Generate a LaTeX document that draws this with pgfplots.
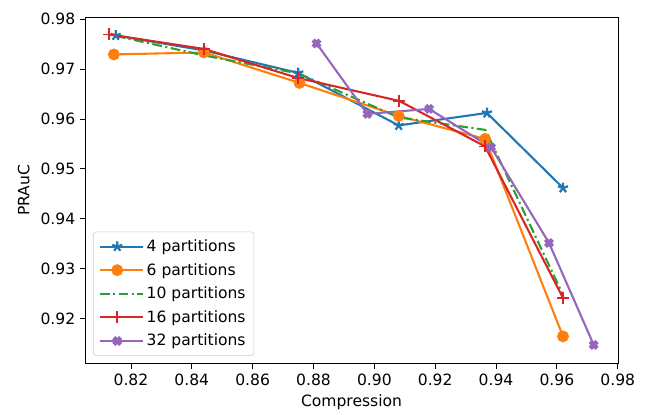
\documentclass[border=0pt]{standalone}
\usepackage{pgfplots}
\pgfplotsset{compat=1.18}
\usepackage{fontspec}
\setmainfont{DejaVu Sans}
\definecolor{c0}{HTML}{1F77B4}
\definecolor{c1}{HTML}{FF7F0E}
\definecolor{c2}{HTML}{2CA02C}
\definecolor{c3}{HTML}{D62728}
\definecolor{c4}{HTML}{9467BD}
\begin{document}
\begin{tikzpicture}
\begin{axis}[
  name=ax,
  scale only axis,
  width=383.8pt, height=249.8pt,
  xmin=0.8049, xmax=0.9801,
  ymin=0.911, ymax=0.9804,
  xtick={0.82,0.84,0.86,0.88,0.90,0.92,0.94,0.96,0.98},
  ytick={0.92,0.93,0.94,0.95,0.96,0.97,0.98},
  xticklabel style={/pgf/number format/.cd,fixed,fixed zerofill,precision=2},
  yticklabel style={/pgf/number format/.cd,fixed,fixed zerofill,precision=2},
  /pgf/number format/assume math mode=true,
  scaled ticks=false,
  tick align=outside, xtick pos=bottom, ytick pos=left,
  major tick length=3.5pt,
  tick style={black, line width=0.6pt},
  axis line style={line width=0.6pt},
  font=\fontsize{11.2}{13}\selectfont,
  tick label style={font=\fontsize{11.2}{13}\selectfont},
  xlabel={Compression}, ylabel={PRAuC},
  xlabel style={yshift=0pt},
  ylabel style={yshift=1pt},
  legend cell align=left,
  legend style={at={(0.015,0.023)}, anchor=south west, draw=black!20, rounded corners=2pt,
    font=\fontsize{11.2}{13}\selectfont, row sep=3pt, inner xsep=4pt, inner ysep=3.5pt},
  legend image code/.code={\path (0pt,0pt) -- (31pt,0pt);\draw[mark repeat=2,mark phase=2] plot coordinates {(0pt,0pt) (12.5pt,0pt) (25pt,0pt)};},
  legend image post style={sharp plot},
]
\addplot[c0, line width=1.5pt, mark=star, mark size=3.8pt, mark options={line width=1.6pt, solid}] coordinates {
 (0.815,0.9767) (0.844,0.9737) (0.875,0.9692) (0.908,0.9587) (0.937,0.9612) (0.962,0.9462)};
\addlegendentry{4 partitions}
\addplot[c1, line width=1.5pt, mark=*, mark size=3.5pt, mark options={solid, fill=c1}] coordinates {
 (0.8144,0.9729) (0.844,0.9733) (0.8754,0.9672) (0.908,0.9606) (0.9364,0.9560) (0.962,0.9165)};
\addlegendentry{6 partitions}
\addplot[c2, line width=1.5pt, dash pattern=on 7pt off 2.5pt on 1.5pt off 2.5pt] coordinates {
 (0.815,0.9766) (0.844,0.9727) (0.875,0.9691) (0.908,0.9603) (0.9365,0.9578) (0.962,0.9248)};
\addlegendentry{10 partitions}
\addplot[c3, line width=1.5pt, mark=+, mark size=4.3pt, mark options={line width=1.3pt, solid}] coordinates {
 (0.8128,0.9769) (0.844,0.9740) (0.8748,0.9682) (0.9082,0.9636) (0.9364,0.9545) (0.962,0.9242)};
\addlegendentry{16 partitions}
\addplot[c4, line width=1.5pt, mark=x, mark size=3.5pt, mark options={line width=3.2pt, solid}] coordinates {
 (0.881,0.9751) (0.8977,0.9610) (0.918,0.9620) (0.9384,0.9543) (0.9574,0.9352) (0.9721,0.9148)};
\addlegendentry{32 partitions}
\end{axis}
\useasboundingbox ([xshift=-61.2pt,yshift=-36.7pt]ax.south west) rectangle ([xshift=23pt,yshift=12.2pt]ax.north east);
\end{tikzpicture}
\end{document}
